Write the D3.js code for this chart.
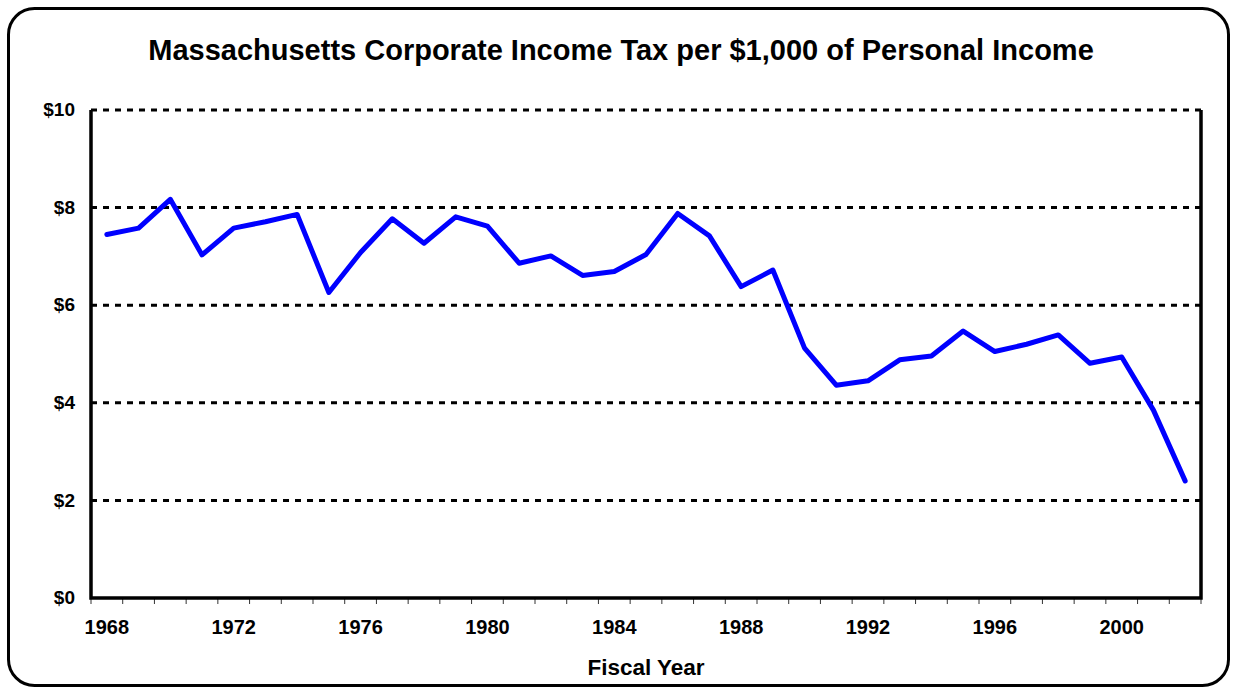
<!DOCTYPE html>
<html>
<head>
<meta charset="utf-8">
<script src="https://cdn.jsdelivr.net/npm/d3@7"></script>
<style>
  body { margin: 0; background: #fff; }
  text { font-family: "Liberation Sans", Arial, sans-serif; font-weight: bold; fill: #000; }
</style>
</head>
<body>
<div id="chart"></div>
<script>
// Date
var years = [1968, 1969, 1970, 1971, 1972, 1973, 1974, 1975, 1976, 1977, 1978, 1979,
    1980, 1981, 1982, 1983, 1984, 1985, 1986, 1987, 1988, 1989, 1990, 1991,
    1992, 1993, 1994, 1995, 1996, 1997, 1998, 1999, 2000, 2001, 2002];
var taxPer1000 = [7.45, 7.58, 8.17, 7.03, 7.58, 7.71, 7.86, 6.26, 7.08, 7.77, 7.27, 7.81,
    7.62, 6.86, 7.01, 6.61, 6.69, 7.04, 7.88, 7.42, 6.38, 6.72, 5.12, 4.36,
    4.45, 4.88, 4.96, 5.47, 5.05, 5.20, 5.39, 4.81, 4.94, 3.85, 2.40];
var yTicks = [0, 2, 4, 6, 8, 10];
var xLabelYears = [1968, 1972, 1976, 1980, 1984, 1988, 1992, 1996, 2000];
var title = "Massachusetts Corporate Income Tax per $1,000 of Personal Income";
var xTitle = "Fiscal Year";

var svgWidth = 1233;
var svgHeight = 688;
var plot = { left: 91, right: 1201, top: 110, bottom: 598 };

var svg = d3.select("#chart")
    .append("svg")
    .attr("width", svgWidth)
    .attr("height", svgHeight);

// Chenarul exterior rotunjit
svg.append("rect")
    .attr("x", 8.5)
    .attr("y", 8.5)
    .attr("width", 1220)
    .attr("height", 677)
    .attr("rx", 26)
    .attr("ry", 26)
    .attr("fill", "#fff")
    .attr("stroke", "#000")
    .attr("stroke-width", 3);

// Scalele
var x = d3.scaleBand()
    .domain(years)
    .range([plot.left, plot.right]);
var y = d3.scaleLinear()
    .domain([0, 10])
    .range([plot.bottom, plot.top]);

// Titlul
svg.append("text")
    .attr("x", 621)
    .attr("y", 60)
    .attr("text-anchor", "middle")
    .style("font-size", "29px")
    .text(title);

// Liniile de grilă punctate
svg.append("g")
    .selectAll("line")
    .data(yTicks.filter(function (d) { return d > 0; }))
    .join("line")
    .attr("x1", plot.left)
    .attr("x2", plot.right)
    .attr("y1", function (d) { return y(d); })
    .attr("y2", function (d) { return y(d); })
    .attr("stroke", "#000")
    .attr("stroke-width", 3)
    .attr("stroke-dasharray", "6,6");

// Axa Y (doar etichetele)
var yAxis = svg.append("g")
    .attr("transform", "translate(" + plot.left + ",0)")
    .call(d3.axisLeft(y).tickValues(yTicks).tickSize(0).tickPadding(16)
        .tickFormat(function (d) { return "$" + d; }));
yAxis.select(".domain").remove();
yAxis.selectAll("text")
    .style("font-size", "19px")
    .attr("dy", "0.3em");

// Axa X: liniuțe la granițele categoriilor
var boundaries = years.map(function (d) { return x(d); }).concat([plot.right]);
svg.append("g")
    .selectAll("line")
    .data(boundaries)
    .join("line")
    .attr("x1", function (d) { return d; })
    .attr("x2", function (d) { return d; })
    .attr("y1", plot.bottom)
    .attr("y2", plot.bottom + 6)
    .attr("stroke", "#333")
    .attr("stroke-width", 1);

var xAxis = svg.append("g")
    .attr("transform", "translate(0," + plot.bottom + ")")
    .call(d3.axisBottom(x).tickValues(xLabelYears).tickSize(0).tickPadding(22));
xAxis.select(".domain").remove();
xAxis.selectAll("text")
    .style("font-size", "20px");

// Titlul axei X
svg.append("text")
    .attr("x", 646)
    .attr("y", 675)
    .attr("text-anchor", "middle")
    .style("font-size", "22.5px")
    .text(xTitle);

// Chenarul zonei graficului (stânga, jos, dreapta)
svg.append("path")
    .attr("d", "M" + plot.left + "," + plot.top + "V" + plot.bottom + "H" + plot.right + "V" + plot.top)
    .attr("fill", "none")
    .attr("stroke", "#000")
    .attr("stroke-width", 3.5);

// Linia datelor
var line = d3.line()
    .x(function (d, i) { return x(years[i]) + x.bandwidth() / 2; })
    .y(function (d) { return y(d); });

svg.append("path")
    .datum(taxPer1000)
    .attr("fill", "none")
    .attr("stroke", "#0000ff")
    .attr("stroke-width", 5)
    .attr("stroke-linejoin", "round")
    .attr("stroke-linecap", "round")
    .attr("d", line);
</script>
</body>
</html>
